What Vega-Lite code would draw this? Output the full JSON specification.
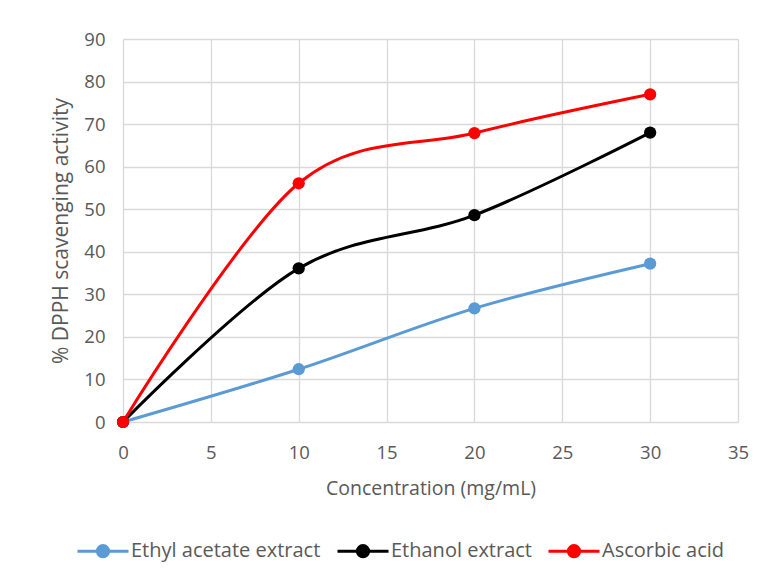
{
  "$schema": "https://vega.github.io/schema/vega-lite/v6.json",
  "width": 615,
  "height": 383,
  "padding": {"left": 123, "top": 39, "right": 30, "bottom": 162},
  "autosize": {"type": "none"},
  "background": "white",
  "data": {"values": [
    {"series": "Ethyl acetate extract", "conc": 0, "value": 0},
    {"series": "Ethyl acetate extract", "conc": 10, "value": 12.4},
    {"series": "Ethyl acetate extract", "conc": 20, "value": 26.7},
    {"series": "Ethyl acetate extract", "conc": 30, "value": 37.2},
    {"series": "Ethanol extract", "conc": 0, "value": 0},
    {"series": "Ethanol extract", "conc": 10, "value": 36.1},
    {"series": "Ethanol extract", "conc": 20, "value": 48.6},
    {"series": "Ethanol extract", "conc": 30, "value": 68.0},
    {"series": "Ascorbic acid", "conc": 0, "value": 0},
    {"series": "Ascorbic acid", "conc": 10, "value": 56.1},
    {"series": "Ascorbic acid", "conc": 20, "value": 67.9},
    {"series": "Ascorbic acid", "conc": 30, "value": 77.0}
  ]},
  "mark": {"type": "line", "interpolate": "cardinal", "strokeWidth": 3, "point": {"filled": true, "size": 150, "opacity": 1}},
  "encoding": {
    "x": {"field": "conc", "type": "quantitative",
      "scale": {"domain": [0, 35], "nice": false},
      "axis": {"title": "Concentration (mg/mL)", "values": [0,5,10,15,20,25,30,35], "labelOverlap": false, "labelFlush": false, "ticks": false, "domain": false, "labelPadding": 21, "titlePadding": 18, "labelFontSize": 18.5, "titleFontSize": 19.5}},
    "y": {"field": "value", "type": "quantitative",
      "scale": {"domain": [0, 90], "nice": false},
      "axis": {"title": "% DPPH scavenging activity", "values": [0,10,20,30,40,50,60,70,80,90], "labelOverlap": false, "labelFlush": false, "ticks": false, "domain": false, "labelPadding": 18, "titlePadding": 12, "labelFontSize": 18.5, "titleFontSize": 21}},
    "color": {"field": "series", "type": "nominal",
      "scale": {"domain": ["Ethyl acetate extract", "Ethanol extract", "Ascorbic acid"], "range": ["#5b9bd5", "#000000", "#ff0000"]},
      "legend": {"title": null, "orient": "none", "legendX": -47, "legendY": 485, "direction": "horizontal",
        "symbolType": "M-1,0L1,0M-0.22,0A0.22,0.22 0 1,1 0.22,0A0.22,0.22 0 1,1 -0.22,0Z",
        "symbolSize": 2601, "symbolStrokeWidth": 3, "symbolOpacity": 1,
        "labelFontSize": 20, "labelColor": "#595959", "labelFont": "Open Sans", "labelLimit": 400, "columnPadding": 10, "labelOffset": 1}},
    "order": {"field": "conc", "type": "quantitative"}
  },
  "config": {
    "view": {"stroke": null},
    "axis": {"gridColor": "#d9d9d9", "gridWidth": 1.3, "labelFont": "Open Sans", "labelColor": "#595959",
      "titleFont": "Open Sans", "titleColor": "#595959", "titleFontWeight": "normal"}
  }
}
